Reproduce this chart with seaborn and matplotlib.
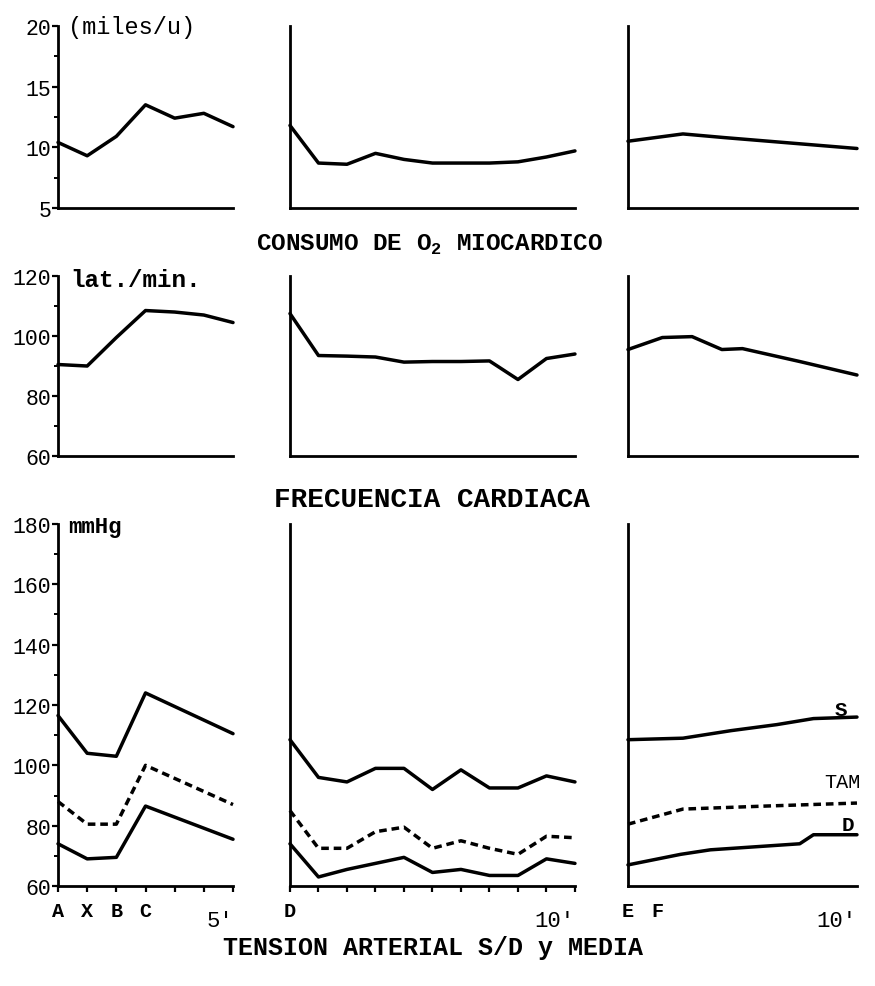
import matplotlib
matplotlib.use("Agg")
import matplotlib.pyplot as plt
import seaborn as sns

sns.set_style("ticks")
plt.rcParams['font.family'] = ['Liberation Mono', 'DejaVu Sans Mono']
plt.rcParams['mathtext.fontset'] = 'custom'
plt.rcParams['mathtext.rm'] = 'Liberation Mono'
plt.rcParams['text.color'] = 'black'
plt.rcParams['xtick.color'] = 'black'
plt.rcParams['ytick.color'] = 'black'

# --- data ---
# left column: A X B C ... 5' ; middle: D ... 10' ; right: E F ... 10'
o2_left_x = [0, 1, 2, 3, 4, 5, 6]
o2_left = [10.4, 9.3, 10.9, 13.5, 12.4, 12.8, 11.7]
o2_mid_x = [0, 1, 2, 3, 4, 5, 6, 7, 8, 9, 10]
o2_mid = [11.8, 8.7, 8.6, 9.5, 9.0, 8.7, 8.7, 8.7, 8.8, 9.2, 9.7]
o2_right_x = [0, 2.4, 4.2, 10]
o2_right = [10.5, 11.1, 10.8, 9.9]

fc_left_x = [0, 1, 2, 3, 4, 5, 6]
fc_left = [90.5, 90, 99.5, 108.5, 108, 107, 104.5]
fc_mid_x = [0, 1, 2, 3, 4, 5, 6, 7, 8, 9, 10]
fc_mid = [107.5, 93.5, 93.3, 93, 91.3, 91.5, 91.5, 91.7, 85.5, 92.5, 94]
fc_right_x = [0, 1.5, 2.8, 4.1, 5, 7.5, 10]
fc_right = [95.5, 99.5, 99.8, 95.5, 95.8, 91.5, 87]

ta_left_x = [0, 1, 2, 3, 6]
s_left = [116.5, 104, 103, 124, 110.5]
tam_left = [88, 80.5, 80.5, 100, 87]
d_left = [74, 69, 69.5, 86.5, 75.5]

ta_mid_x = [0, 1, 2, 3, 4, 5, 6, 7, 8, 9, 10]
s_mid = [108.5, 96, 94.5, 99, 99, 92, 98.5, 92.5, 92.5, 96.5, 94.5]
tam_mid = [85, 72.5, 72.5, 78, 79.5, 72.5, 75, 72.5, 70.5, 76.5, 76]
d_mid = [74, 63, 65.5, 67.5, 69.5, 64.5, 65.5, 63.5, 63.5, 69, 67.5]

s_right_x = [0, 2.4, 4.5, 6.5, 8.1, 10]
s_right = [108.5, 109, 111.5, 113.5, 115.5, 116]
tam_right_x = [0, 2.4, 6, 10]
tam_right = [80.5, 85.5, 86.5, 87.5]
d_right_x = [0, 2.3, 3.6, 7.5, 8.1, 10]
d_right = [67, 70.5, 72, 74, 77, 77]

left_xticks = [0, 1, 2, 3, 4, 5, 6]
left_xlabels = ["A", "X", "B", "C", "", "", ""]
mid_xticks = [0, 1, 2, 3, 4, 5, 6, 7, 8, 9, 10]
mid_xlabels = ["D", "", "", "", "", "", "", "", "", "", ""]
right_xticks = [0, 1.27]
right_xlabels = ["E", "F"]

LW = 2.5
DASH = (0, (2.2, 1.4))

fig = plt.figure(figsize=(8.75, 9.87), dpi=100)
cols = [(0.0663, 0.2), (0.3314, 0.3257), (0.7177, 0.2617)]
rows = [(0.7883, 0.1844), (0.537, 0.1823), (0.1013, 0.3668)]
xmax = [6, 10, 10]
ylims = [(5, 20), (60, 120), (60, 180)]

axes = []
for r, (b, h) in enumerate(rows):
    row = []
    for c, (l, w) in enumerate(cols):
        ax = fig.add_axes([l, b, w, h])
        ax.set_xlim(0, xmax[c])
        ax.set_ylim(*ylims[r])
        sns.despine(ax=ax)
        for sp in ["left", "bottom"]:
            ax.spines[sp].set_linewidth(2.0)
            ax.spines[sp].set_color("black")
        ax.set_xticks([])
        if c > 0:
            ax.set_yticks([])
        ax.tick_params(axis="y", labelsize=15.5, length=4, width=1.6,
                       pad=1, colors="black")
        ax.tick_params(axis="y", which="minor", length=3, width=1.4)
        row.append(ax)
    axes.append(row)

# y ticks on left column
axes[0][0].set_yticks([5, 10, 15, 20])
axes[0][0].set_yticks([7.5, 12.5, 17.5], minor=True)
axes[1][0].set_yticks([60, 80, 100, 120])
axes[1][0].set_yticks([70, 90, 110], minor=True)
axes[2][0].set_yticks([60, 80, 100, 120, 140, 160, 180])
axes[2][0].set_yticks([70, 90, 110, 130, 150, 170], minor=True)


def line(ax, x, y, dashed=False):
    kw = dict(linestyle=DASH) if dashed else {}
    sns.lineplot(x=x, y=y, ax=ax, color="black", linewidth=LW,
                 solid_joinstyle="round", clip_on=False, **kw)


# O2 consumption
line(axes[0][0], o2_left_x, o2_left)
line(axes[0][1], o2_mid_x, o2_mid)
line(axes[0][2], o2_right_x, o2_right)

# heart rate
line(axes[1][0], fc_left_x, fc_left)
line(axes[1][1], fc_mid_x, fc_mid)
line(axes[1][2], fc_right_x, fc_right)

# blood pressure
line(axes[2][0], ta_left_x, s_left)
line(axes[2][0], ta_left_x, tam_left, dashed=True)
line(axes[2][0], ta_left_x, d_left)
line(axes[2][1], ta_mid_x, s_mid)
line(axes[2][1], ta_mid_x, tam_mid, dashed=True)
line(axes[2][1], ta_mid_x, d_mid)
line(axes[2][2], s_right_x, s_right)
line(axes[2][2], tam_right_x, tam_right, dashed=True)
line(axes[2][2], d_right_x, d_right)

# x ticks of the bottom row
for ax, ticks, labels in zip(axes[2], [left_xticks, mid_xticks, right_xticks],
                             [left_xlabels, mid_xlabels, right_xlabels]):
    ax.set_xticks(ticks)
    ax.set_xticklabels(labels, fontsize=14.5, fontweight="bold")
    ax.tick_params(axis="x", length=4, width=1.6, pad=7, colors="black")
axes[2][2].tick_params(axis="x", length=0, pad=11)

for ax, xm in zip(axes[2], xmax):
    ax.text(xm, -0.095, "5'" if xm == 6 else "10'", transform=ax.get_xaxis_transform(),
            ha="right", va="center", fontsize=16)

# series labels
axes[2][2].text(9.3, 118.5, "S", ha="center", va="center", fontsize=15, fontweight="bold")
axes[2][2].text(9.35, 94.8, "TAM", ha="center", va="center", fontsize=14.5)
axes[2][2].text(9.6, 80.5, "D", ha="center", va="center", fontsize=15, fontweight="bold")

# units and titles
fig.text(0.078, 0.9726, "(miles/u)", ha="left", va="center", fontsize=17)
fig.text(0.080, 0.7163, "lat./min.", ha="left", va="center", fontsize=17.5, fontweight="bold")
fig.text(0.078, 0.466, "mmHg", ha="left", va="center", fontsize=16, fontweight="bold")
fig.text(0.491, 0.752, r"CONSUMO DE O$_\mathregular{2}$ MIOCARDICO", ha="center", va="center",
         fontsize=17.5, fontweight="bold")
fig.text(0.494, 0.4934, "FRECUENCIA CARDIACA", ha="center", va="center", fontsize=20,
         fontweight="bold")
fig.text(0.495, 0.040, "TENSION ARTERIAL S/D y MEDIA", ha="center", va="center",
         fontsize=18, fontweight="bold")

fig.savefig("out.png", dpi=100)
